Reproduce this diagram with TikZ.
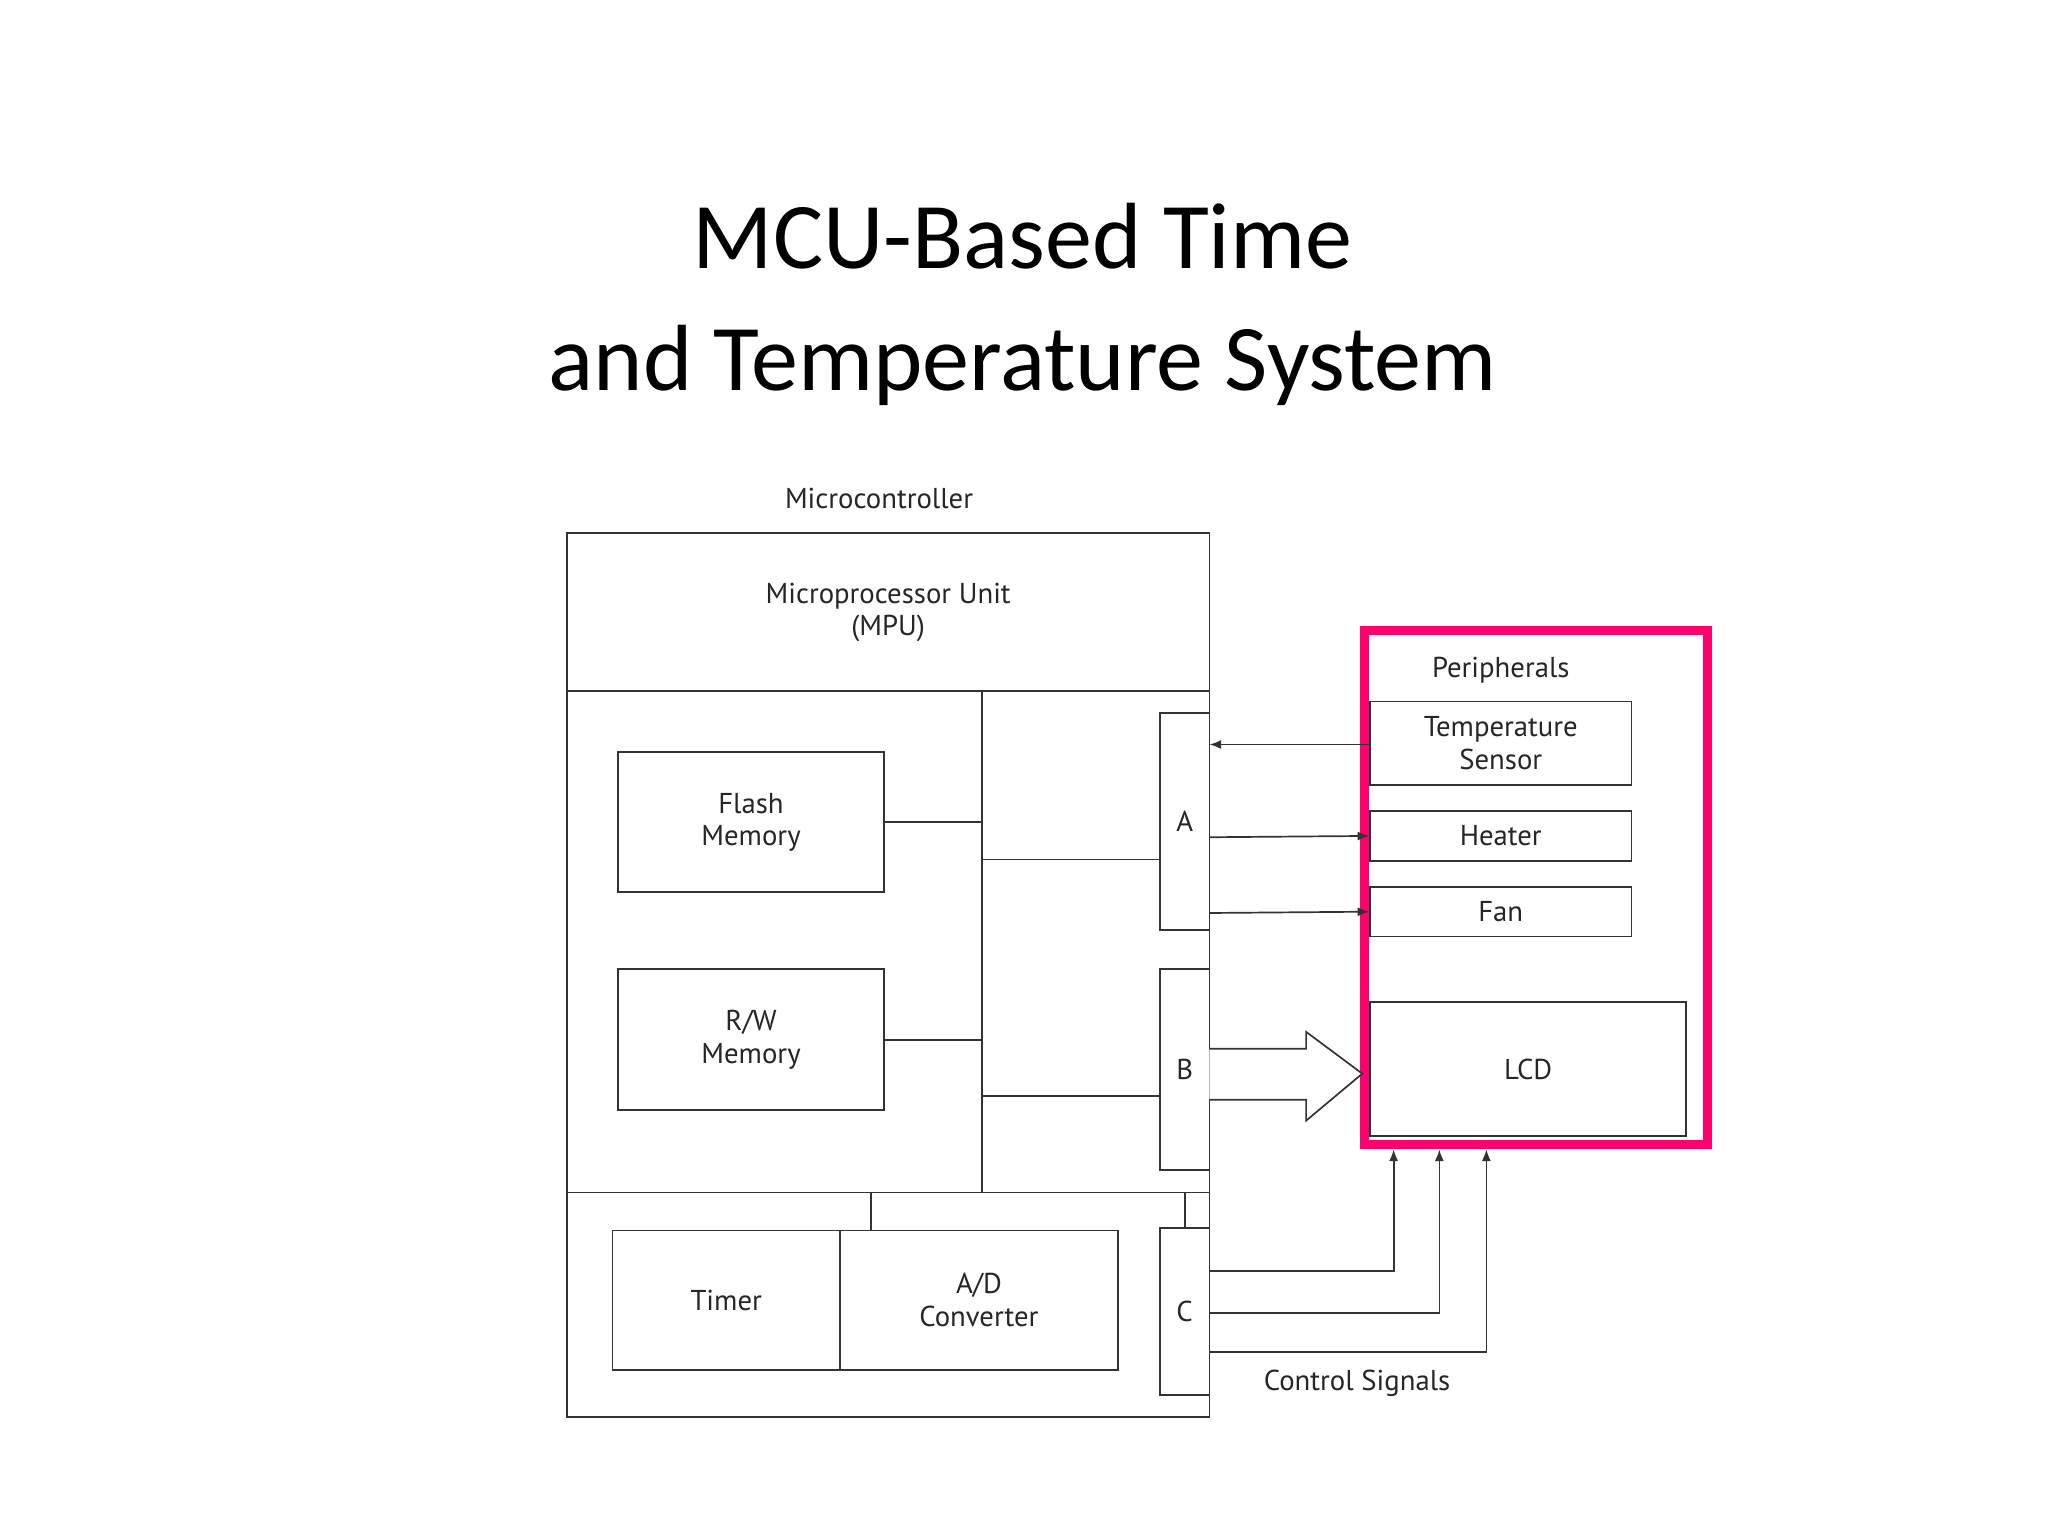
\documentclass[tikz,border=0pt]{standalone}
\usepackage{fontspec}
\setmainfont{Carlito}
\newfontfamily\dfont{PT Sans}
\usetikzlibrary{arrows.meta}
\begin{document}
\begin{tikzpicture}[x=1pt,y=-1pt,
  ln/.style={draw=black!80,line width=1.3pt},
  lbl/.style={font=\dfont\fontsize{22}{25}\selectfont,text=black!85,align=center,inner sep=0},
  arr/.style={ln,-{Latex[length=9pt,width=7pt]}}]
\useasboundingbox (0,0) rectangle (1568,1176);
\fill[white] (0,0) rectangle (1568,1176);
\node[font=\fontsize{72}{94}\selectfont,align=center] (title) at (783,233) {MCU-Based Time\\and Temperature System};
\node[lbl] (mclbl) at (673,382) {Microcontroller};
\draw[ln] (434,408) rectangle (926,1085);
\coordinate (mpuL) at (434,529); \coordinate (mpuR) at (926,529);
\draw[ln] (mpuL) -- (mpuR);
\node[lbl] (mpu) at (680,469) {Microprocessor Unit\\(MPU)};
\coordinate (busT) at (752,529); \coordinate (busB) at (752,913);
\draw[ln] (busT) -- (busB);
\draw[ln] (434,913) -- (926,913);
\node[ln,lbl,minimum width=204pt,minimum height=107pt] (flash) at (575,629.5) {Flash\\Memory};
\node[ln,lbl,minimum width=204pt,minimum height=108pt] (rw) at (575,796) {R/W\\Memory};
\draw[ln] (flash.east) -- (flash.east -| busT);
\draw[ln] (rw.east) -- (rw.east -| busT);
\node[ln,lbl,minimum width=38pt,minimum height=166pt] (A) at (907,629) {A};
\node[ln,lbl,minimum width=38pt,minimum height=154pt] (B) at (907,819) {B};
\node[ln,lbl,minimum width=38pt,minimum height=128pt] (C) at (907,1004) {C};
\draw[ln] (752,658) -- (752,658 -| A.west);
\draw[ln] (752,839) -- (752,839 -| B.west);
\node[ln,lbl,minimum width=174pt,minimum height=107pt] (timer) at (556,995.5) {Timer};
\node[ln,lbl,minimum width=213pt,minimum height=107pt] (ad) at (749.5,995.5) {A/D\\Converter};
\draw[ln] (667,913) -- (667,942);
\draw[ln] (907,913) -- (C.north);
% peripherals
\draw[draw={rgb,255:red,255;green,0;blue,110},line width=7pt] (1045,483) rectangle (1307,876);
\node[lbl] (perlbl) at (1149,513) {Peripherals};
\node[ln,lbl,minimum width=200pt,minimum height=64pt] (ts) at (1149,569) {Temperature\\Sensor};
\node[ln,lbl,minimum width=200pt,minimum height=38pt] (heater) at (1149,640) {Heater};
\node[ln,lbl,minimum width=200pt,minimum height=38pt] (fan) at (1149,698) {Fan};
\node[ln,lbl,minimum width=242pt,minimum height=103pt] (lcd) at (1170,818.5) {LCD};
\node[lbl] at (1166,821) {};
\draw[arr] (ts.west |- 0,570) -- (926,570);
\draw[arr] (926,641) -- (heater.west);
\draw[arr] (926,699) -- (fan.west);
\draw[ln,fill=white] (926,803) -- (1000,803) -- (1000,790) -- (1043,822) -- (1000,858) -- (1000,842) -- (926,842);
\coordinate (c1) at (1067,880); \coordinate (c2) at (1102,880); \coordinate (c3) at (1138,880);
\draw[arr] (926,973) -| (c1);
\draw[arr] (926,1005) -| (c2);
\draw[arr] (926,1035) -| (c3);
\node[lbl] (cs) at (1039,1059) {Control Signals};
\end{tikzpicture}
\end{document}
